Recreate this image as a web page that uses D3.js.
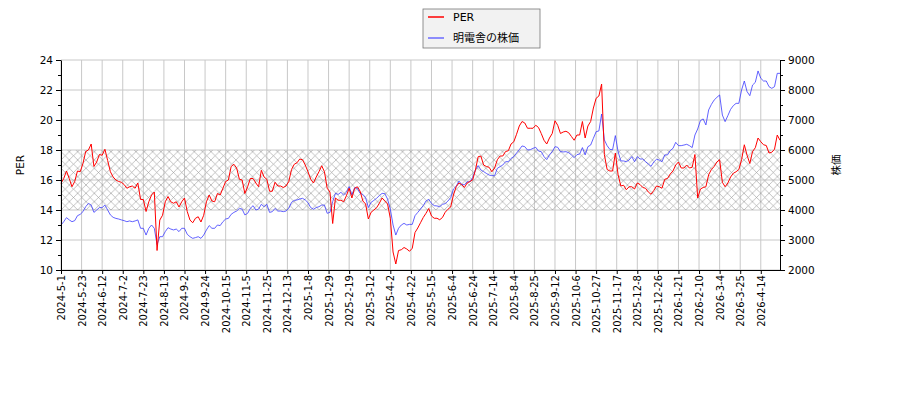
<!DOCTYPE html>
<html>
<head>
<meta charset="utf-8">
<script src="https://cdn.jsdelivr.net/npm/d3@7"></script>
<style>
  body { margin: 0; background: #fff; }
  svg text { font-family: "DejaVu Sans", "Noto Sans CJK JP", sans-serif; }
</style>
</head>
<body>
<div id="chart"></div>
<script>

// one value every 2 trading days, starting 2024-5-1
var sampleStep = 2;
var dayCount = 525;

var perValues = [
  15.78,16.1,16.6,16.1,15.55,15.9,16.6,16.55,17.1,17.9,
  18.0,18.4,16.9,17.2,17.7,17.65,18.05,17.3,16.55,16.2,
  16.0,15.9,15.85,15.7,15.45,15.55,15.6,15.45,15.8,14.7,
  14.7,13.9,14.55,15.0,15.2,11.3,13.33,13.65,14.55,14.9,
  14.55,14.45,14.55,14.2,14.55,14.8,13.9,13.33,13.15,13.45,
  13.55,13.2,13.65,14.55,15.0,14.6,14.55,15.1,15.0,15.45,
  15.9,16.0,16.9,17.05,16.8,16.05,16.0,15.1,
  15.55,16.1,16.1,15.8,15.55,16.65,16.2,16.05,15.25,15.25,
  15.85,15.6,15.6,15.5,15.6,15.9,16.7,17.05,17.15,17.4,
  17.35,17.0,16.55,16.05,15.8,16.2,16.55,16.95,16.55,15.45,
  15.2,13.1,14.8,14.65,14.65,14.55,14.95,15.45,14.8,15.45,
  15.55,15.25,14.6,14.4,13.4,13.85,14.0,14.15,14.45,14.8,
  14.6,14.4,13.45,11.2,10.4,11.3,11.35,11.5,11.4,11.25,
  11.45,12.5,12.8,13.15,13.5,
  13.78,14.1,13.6,13.45,13.45,13.35,13.5,13.85,14.05,14.2,
  15.0,15.55,15.8,15.7,15.5,15.8,15.9,16.0,16.65,17.55,
  17.6,17.0,16.9,16.85,16.55,16.8,17.35,17.6,17.6,17.9,
  17.95,18.4,18.55,19.05,19.6,19.9,19.8,19.45,19.45,19.45,
  19.65,19.5,19.1,18.65,18.4,18.8,19.1,19.95,19.65,19.1,
  19.2,19.25,19.15,18.9,18.65,19.0,19.0,19.9,18.8,19.6,
  19.9,20.8,21.45,21.6,22.4,
  17.7,16.7,16.6,16.6,17.8,16.35,15.6,15.65,15.35,15.55,
  15.55,15.4,15.8,15.7,15.5,15.45,15.2,15.05,15.3,15.6,
  15.55,15.45,16.05,16.1,16.4,16.6,17.0,17.2,16.8,16.8,
  17.0,16.8,16.85,17.7,14.8,15.4,15.5,15.55,16.35,16.7,
  16.9,17.2,17.35,15.85,15.55,15.8,16.2,16.45,16.55,16.7,
  17.35,18.35,17.65,17.1,17.9,18.15,18.8,18.55,18.35,18.3,
  17.8,17.85,18.05,19.0,18.65
];

var priceValues = [
  3500,3610,3745,3670,3610,3645,3810,3855,3945,4110,
  4220,4165,3920,4000,4080,4080,4165,4000,3835,3755,
  3720,3700,3670,3645,3610,3635,3610,3635,3670,3390,
  3390,3165,3390,3500,3390,2850,3110,3110,3280,3410,
  3365,3335,3365,3280,3390,3390,3190,3110,3055,3080,
  3110,3055,3165,3335,3480,3390,3390,3500,3480,3610,
  3700,3720,3855,3920,3965,4055,4030,3835,
  3890,4055,4145,4000,4030,4190,4110,4190,3920,3945,
  4055,3965,3965,3945,3965,4055,4255,4320,4335,4365,
  4390,4335,4245,4080,4025,4080,4110,4165,4165,3890,
  3920,4280,4555,4520,4590,4500,4590,4780,4500,4745,
  4720,4555,4520,4410,4080,4255,4320,4390,4480,4555,
  4545,4365,4030,3500,3165,3390,3500,3555,3500,3520,
  3520,3810,3920,4030,4145,
  4300,4355,4220,4145,4135,4110,4190,4210,4300,4410,
  4700,4790,4965,4855,4835,4945,4935,5080,5335,5480,
  5335,5280,5220,5165,5145,5145,5390,5445,5500,5610,
  5610,5720,5780,5900,6010,6135,6110,6000,6010,6055,
  6090,5965,5945,5780,5680,5835,5945,6110,6090,5945,
  5935,5945,5910,5835,5745,5845,5865,6080,5835,6110,
  6165,6390,6610,6635,7200,
  6335,6145,6020,6010,6480,5945,5635,5635,5610,5665,
  5780,5610,5780,5700,5700,5610,5535,5455,5600,5690,
  5665,5610,5835,5835,5980,6055,6255,6145,6145,6165,
  6190,6145,6080,6500,6700,6980,7035,6835,7335,7520,
  7665,7755,7835,7165,6945,7145,7355,7480,7555,7555,
  8000,8300,7945,7810,8165,8255,8635,8390,8300,8300,
  8110,8055,8110,8555,8555
];

// x tick labels, one every 15 trading days
var tickStep = 15;
var tickLabels = [
  "2024-5-1","2024-5-23","2024-6-12","2024-7-2","2024-7-23","2024-8-13","2024-9-2",
  "2024-9-24","2024-10-15","2024-11-5","2024-11-25","2024-12-13","2025-1-8","2025-1-29",
  "2025-2-19","2025-3-12","2025-4-2","2025-4-22","2025-5-15","2025-6-4","2025-6-24",
  "2025-7-14","2025-8-4","2025-8-25","2025-9-12","2025-10-6","2025-10-27","2025-11-17",
  "2025-12-8","2025-12-26","2026-1-21","2026-2-10","2026-3-4","2026-3-25","2026-4-14"
];

var perBand = [14, 18];
var seriesNames = ["PER", "明電舎の株価"];

var margin = {top: 60, right: 120, bottom: 130, left: 61},
    width = 900 - margin.left - margin.right,
    height = 400 - margin.top - margin.bottom;

var svg = d3.select("#chart")
  .append("svg")
    .attr("width", 900)
    .attr("height", 400);

// cross hatch pattern
var pat = svg.append("defs").append("pattern")
    .attr("id", "hatch")
    .attr("patternUnits", "userSpaceOnUse")
    .attr("width", 8.33)
    .attr("height", 8.33);
pat.append("path")
    .attr("d", "M0,0L8.33,8.33M8.33,0L0,8.33")
    .attr("stroke", "#999")
    .attr("stroke-width", 0.6)
    .attr("fill", "none");

var g = svg.append("g")
    .attr("transform", "translate(" + margin.left + "," + margin.top + ")");

var x = d3.scaleLinear()
  .domain([0, dayCount - 1])
  .range([0, width]);

var y = d3.scaleLinear()
  .domain([10, 24])
  .range([height, 0]);

var y2 = d3.scaleLinear()
  .domain([2000, 9000])
  .range([height, 0]);

var tickIdx = tickLabels.map(function(d, i){ return i * tickStep; });

// grid
g.append("g")
  .selectAll("line")
  .data(tickIdx)
  .join("line")
    .attr("x1", d => x(d)).attr("x2", d => x(d))
    .attr("y1", 0).attr("y2", height)
    .attr("stroke", "#c8c8c8").attr("stroke-width", 1);
g.append("g")
  .selectAll("line")
  .data(d3.range(10, 25, 2))
  .join("line")
    .attr("x1", 0).attr("x2", width)
    .attr("y1", d => y(d)).attr("y2", d => y(d))
    .attr("stroke", "#c8c8c8").attr("stroke-width", 1);

// PER band
g.append("rect")
    .attr("x", 0)
    .attr("y", y(perBand[1]))
    .attr("width", width)
    .attr("height", y(perBand[0]) - y(perBand[1]))
    .attr("fill", "url(#hatch)");

var perLine = d3.line()
    .x((d, i) => x(i * sampleStep))
    .y(d => y(d));
var priceLine = d3.line()
    .x((d, i) => x(i * sampleStep))
    .y(d => y2(d));

g.append("path")
    .datum(priceValues)
    .attr("fill", "none")
    .attr("stroke", "#3a3aff")
    .attr("stroke-width", 0.8)
    .attr("d", priceLine);

g.append("path")
    .datum(perValues)
    .attr("fill", "none")
    .attr("stroke", "red")
    .attr("stroke-width", 1)
    .attr("d", perLine);

// axes
var xAxis = g.append("g")
  .attr("transform", "translate(0," + height + ")")
  .call(d3.axisBottom(x).tickValues(tickIdx).tickSize(4).tickSizeOuter(0)
        .tickFormat((d, i) => tickLabels[i]));
xAxis.selectAll("text")
    .style("font-size", "10px")
    .style("text-anchor", "end")
    .attr("dx", "-0.5em")
    .attr("dy", "-0.35em")
    .attr("transform", "rotate(-90)");

var yAxis = g.append("g")
  .call(d3.axisLeft(y).tickValues(d3.range(10, 25, 2)).tickSize(5).tickSizeOuter(0));
yAxis.selectAll("text").style("font-size", "10.5px");
g.append("g")
  .call(d3.axisLeft(y).tickValues(d3.range(11, 24, 2)).tickSize(3).tickFormat("").tickSizeOuter(0))
  .select(".domain").remove();

var yAxis2 = g.append("g")
  .attr("transform", "translate(" + width + ",0)")
  .call(d3.axisRight(y2).tickValues(d3.range(2000, 9001, 1000)).tickSize(5)
        .tickSizeOuter(0).tickFormat(d3.format("d")));
yAxis2.selectAll("text").style("font-size", "10.5px");
g.append("g")
  .attr("transform", "translate(" + width + ",0)")
  .call(d3.axisRight(y2).tickValues(d3.range(2500, 9000, 1000)).tickSize(3).tickFormat("").tickSizeOuter(0))
  .select(".domain").remove();

g.selectAll(".domain").attr("stroke", "#000");

// axis titles
svg.append("text")
    .attr("transform", "translate(24," + (margin.top + height / 2) + ") rotate(-90)")
    .attr("text-anchor", "middle")
    .style("font-size", "10.5px")
    .text("PER");
svg.append("text")
    .attr("transform", "translate(840," + (margin.top + height / 2) + ") rotate(-90)")
    .attr("text-anchor", "middle")
    .style("font-size", "10.5px")
    .text("株価");

// legend
var leg = svg.append("g").attr("transform", "translate(423,9)");
leg.append("rect")
    .attr("width", 117).attr("height", 39)
    .attr("fill", "#f2f2f2")
    .attr("stroke", "#777").attr("stroke-width", 0.8);
var legColors = ["red", "#6a6aff"];
leg.selectAll("line")
  .data(seriesNames)
  .join("line")
    .attr("x1", 5).attr("x2", 21)
    .attr("y1", (d, i) => 8 + i * 21).attr("y2", (d, i) => 8 + i * 21)
    .attr("stroke", (d, i) => legColors[i])
    .attr("stroke-width", 1.5);
leg.selectAll("text")
  .data(seriesNames)
  .join("text")
    .attr("x", 30)
    .attr("y", (d, i) => 8 + i * 21)
    .attr("dy", "0.35em")
    .style("font-size", "11px")
    .text(d => d);

</script>
</body>
</html>
